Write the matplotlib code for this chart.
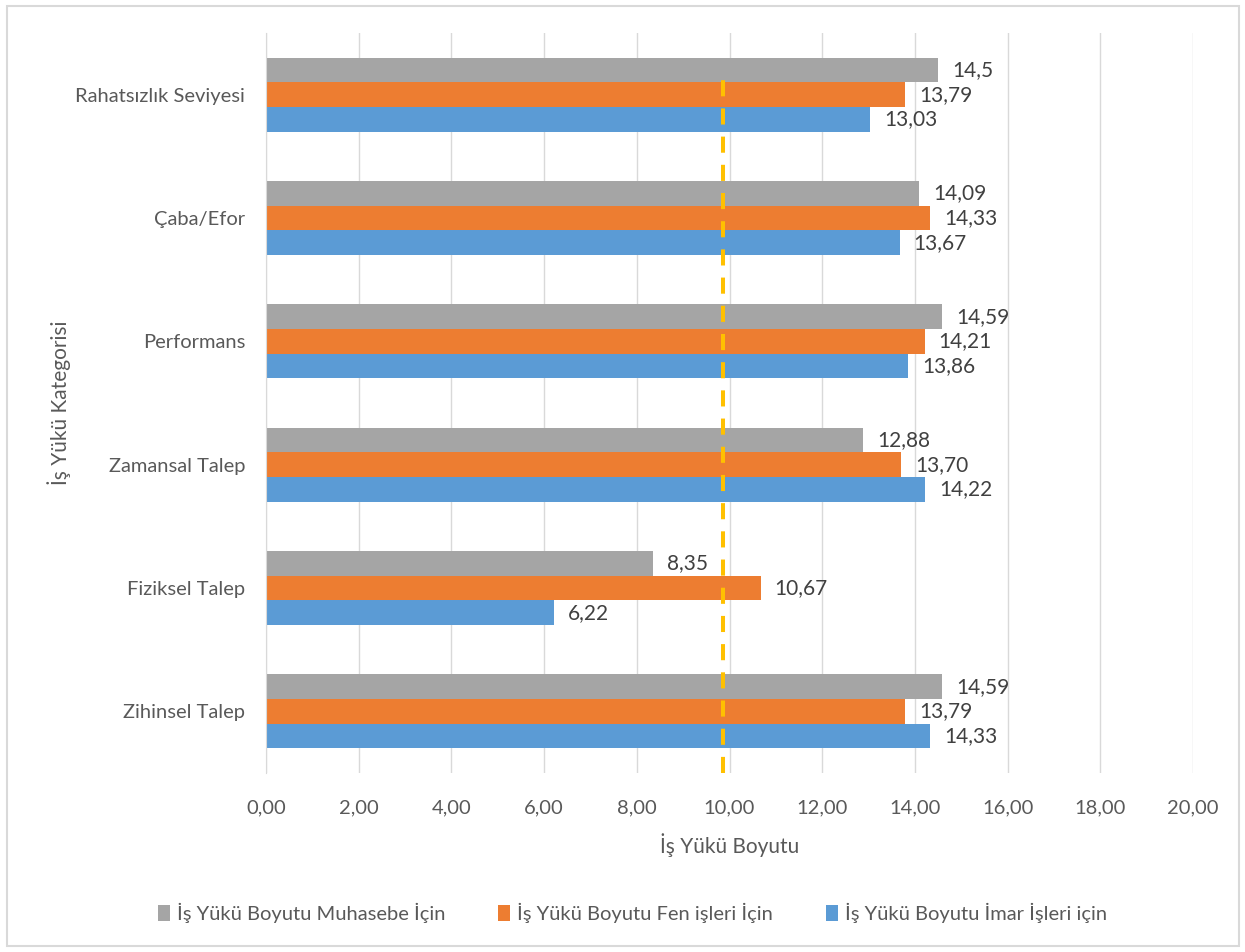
import numpy as np
from matplotlib import pyplot as plt
from matplotlib.patches import Rectangle

plt.rcParams['font.family'] = ['Lato', 'DejaVu Sans']

categories = ["Zihinsel Talep", "Fiziksel Talep", "Zamansal Talep",
              "Performans", "Çaba/Efor", "Rahatsızlık Seviyesi"]
muhasebe = [14.59, 8.35, 12.88, 14.59, 14.09, 14.5]
fen = [13.79, 10.67, 13.70, 14.21, 14.33, 13.79]
imar = [14.33, 6.22, 14.22, 13.86, 13.67, 13.03]
muhasebe_lbl = ["14,59", "8,35", "12,88", "14,59", "14,09", "14,5"]
fen_lbl = ["13,79", "10,67", "13,70", "14,21", "14,33", "13,79"]
imar_lbl = ["14,33", "6,22", "14,22", "13,86", "13,67", "13,03"]
ref_value = 9.85

fig = plt.figure(figsize=(12.45, 9.52), dpi=100)
ax = fig.add_axes([266/1245, 1-773/952, (1193-266)/1245, (773-33)/952])

y = np.arange(len(categories))
h = 0.2
series = [(muhasebe, muhasebe_lbl, "#A5A5A5", "İş Yükü Boyutu Muhasebe İçin", h),
          (fen, fen_lbl, "#ED7D31", "İş Yükü Boyutu Fen işleri İçin", 0),
          (imar, imar_lbl, "#5B9BD5", "İş Yükü Boyutu İmar İşleri için", -h)]
for vals, lbls, col, name, off in series:
    bars = ax.barh(y + off, vals, height=h, color=col, label=name, zorder=2)
    ax.bar_label(bars, labels=lbls, padding=10, fontsize=15, color="#404040")

ax.vlines(ref_value, -0.5, 5.18, colors="#FFC000", linestyles=(0, (4, 3)),
          linewidth=2.9, zorder=3)

ax.set_xlim(0, 20)
ax.set_ylim(-0.5, 5.5)
ax.set_xticks(np.arange(0, 21, 2))
ax.set_xticklabels([f"{v:.2f}".replace(".", ",") for v in np.arange(0, 21, 2)])
ax.set_yticks(y)
ax.set_yticklabels(categories)
ax.tick_params(length=0, labelsize=14.5, labelcolor="#595959")
ax.tick_params(axis="x", pad=19)
ax.tick_params(axis="y", pad=15)
ax.grid(axis="x", color="#D9D9D9", linewidth=1, zorder=0)
ax.set_axisbelow(True)
for s in ["top", "right", "bottom"]:
    ax.spines[s].set_visible(False)
ax.spines["left"].set_color("#D9D9D9")

ax.set_xlabel("İş Yükü Boyutu", fontsize=15, color="#595959", labelpad=12)
ax.set_ylabel("İş Yükü Kategorisi", fontsize=15, color="#595959", labelpad=3)

leg = fig.legend(loc="center", bbox_to_anchor=(0.508, 1-913/952), ncol=3,
                 frameon=False, fontsize=14.5, handlelength=0.6, handleheight=0.9,
                 handletextpad=0.35, columnspacing=2.6)
for t in leg.get_texts():
    t.set_color("#595959")

fig.patches.append(Rectangle((7/1245, 6/952), 1232/1245, 940/952, transform=fig.transFigure,
                             fill=False, edgecolor="#D9D9D9", linewidth=1.5))

fig.savefig("out.png", dpi=100)
